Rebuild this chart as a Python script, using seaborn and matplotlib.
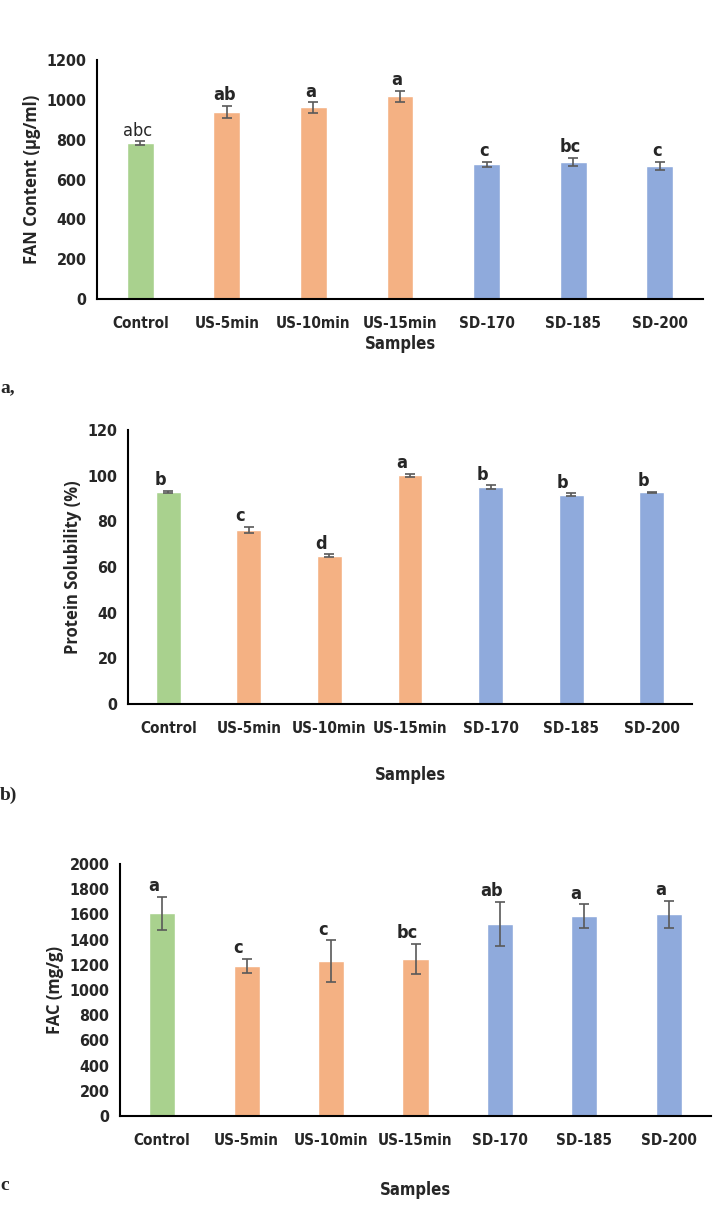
import matplotlib
matplotlib.use("Agg")
import matplotlib.pyplot as plt
import seaborn as sns
import numpy as np

# data
samples = ["Control", "US-5min", "US-10min", "US-15min", "SD-170", "SD-185", "SD-200"]
bar_colors = ["#A9D18E", "#F4B183", "#F4B183", "#F4B183", "#8FAADC", "#8FAADC", "#8FAADC"]

fan_values = [783, 940, 962, 1017, 677, 688, 668]
fan_errors = [10, 30, 26, 28, 12, 20, 22]
fan_letters = ["abc", "ab", "a", "a", "c", "bc", "c"]

sol_values = [92.8, 76.3, 65.0, 100.1, 94.9, 91.7, 92.7]
sol_errors = [0.6, 1.2, 0.5, 0.8, 0.9, 0.6, 0.3]
sol_letters = ["b", "c", "d", "a", "b", "b", "b"]

fac_values = [1610, 1192, 1229, 1248, 1526, 1589, 1603]
fac_errors = [130, 57, 165, 120, 176, 93, 107]
fac_letters = ["a", "c", "c", "bc", "ab", "a", "a"]

sns.set_style("white")
narrow = ["DejaVu Sans"]
plt.rcParams["font.family"] = narrow
plt.rcParams["font.stretch"] = "condensed"


def panel(ax, values, errors, letters, ymax, ystep, ylabel, dx, plain_first=False):
    sns.barplot(x=samples, y=values, hue=samples, palette=bar_colors,
                width=0.31, legend=False, ax=ax, saturation=1)
    xs = [p.get_x() + p.get_width() / 2 for p in ax.patches]
    ax.errorbar(xs, values, yerr=errors, fmt="none", ecolor="#595959",
                elinewidth=1.2, capsize=3.5, capthick=1.2)
    for i, (x, v, e, lab) in enumerate(zip(xs, values, errors, letters)):
        weight = "normal" if (plain_first and i == 0) else "bold"
        ax.annotate(lab, (x, v + e), xytext=(dx, 4), textcoords="offset points",
                    ha="center", va="baseline", fontsize=13, fontweight=weight,
                    fontstretch="condensed")
    ax.set_xlim(-0.5, len(samples) - 0.5)
    ax.set_ylim(0, ymax)
    ax.set_yticks(np.arange(0, ymax + 1, ystep))
    ax.set_xticks(np.arange(len(samples)))
    ax.set_xticklabels(samples, fontsize=11, fontweight="bold", fontstretch="condensed")
    for t in ax.get_yticklabels():
        t.set_fontsize(11.5)
        t.set_fontweight("bold")
        t.set_fontstretch("condensed")
    # excel-style tick marks between categories
    ax.set_xticks(np.arange(len(samples) + 1) - 0.5, minor=True)
    ax.tick_params(axis="x", which="major", length=0, pad=12)
    ax.tick_params(axis="x", which="minor", direction="inout", length=9, width=1.3)
    ax.tick_params(axis="y", direction="inout", length=9, width=1.3, pad=3)
    for s in ["top", "right"]:
        ax.spines[s].set_visible(False)
    for s in ["left", "bottom"]:
        ax.spines[s].set_linewidth(1.5)
        ax.spines[s].set_color("black")
    ax.set_ylabel(ylabel, fontsize=12, fontweight="bold", family=["Open Sans", "DejaVu Sans"],
                  fontstretch="normal")
    ax.set_xlabel("")


fig = plt.figure(figsize=(7.28, 12.05), dpi=100)
W, H = 728, 1205


def add(l, r, t, b):
    return fig.add_axes([l / W, 1 - b / H, (r - l) / W, (b - t) / H])


ax1 = add(97, 703, 60, 299)
panel(ax1, fan_values, fan_errors, fan_letters, 1200, 200, "FAN Content (µg/ml)", -2, plain_first=True)
ax1.set_xlabel("Samples", fontsize=12, fontweight="bold", labelpad=3, fontstretch="condensed")
fig.text(0.0, 1 - 392 / H, "a,", fontsize=14, fontweight="bold", family=["Liberation Serif", "DejaVu Serif"])

ax2 = add(128, 692, 430, 704)
panel(ax2, sol_values, sol_errors, sol_letters, 120, 20, "Protein Solubility (%)", -6)
ax2.set_xlabel("Samples", fontsize=12, fontweight="bold", labelpad=22, fontstretch="condensed")
fig.text(0.0, 1 - 800 / H, "b)", fontsize=14, fontweight="bold", family=["Liberation Serif", "DejaVu Serif"])

ax3 = add(120, 711, 864, 1116)
panel(ax3, fac_values, fac_errors, fac_letters, 2000, 200, "FAC (mg/g)", -6)
ax3.set_xlabel("Samples", fontsize=12, fontweight="bold", labelpad=24, fontstretch="condensed")
fig.text(0.0, 1 - 1190 / H, "c", fontsize=14, fontweight="bold", family=["Liberation Serif", "DejaVu Serif"])

fig.savefig("out.png", dpi=100)
